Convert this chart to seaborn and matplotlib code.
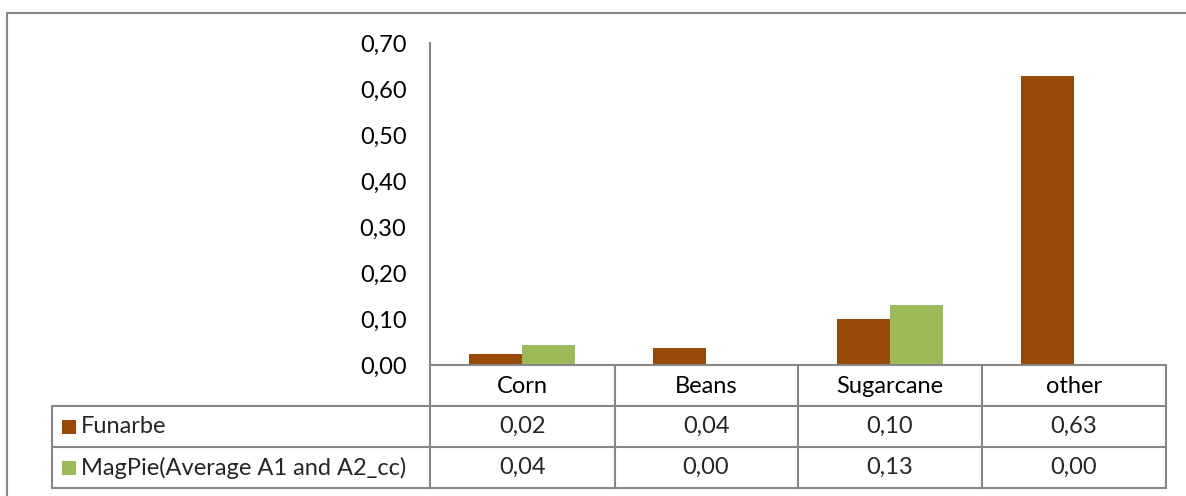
import matplotlib
matplotlib.use("Agg")
import matplotlib.pyplot as plt
import matplotlib.transforms as mtransforms
from matplotlib.lines import Line2D
from matplotlib.patches import Rectangle
from matplotlib.ticker import FuncFormatter, MultipleLocator
import numpy as np
import pandas as pd
import seaborn as sns

# data
categories = ['Corn', 'Beans', 'Sugarcane', 'other']
series = ['Funarbe', 'MagPie(Average A1 and A2_cc)']
funarbe = [0.024, 0.037, 0.100, 0.628]
magpie = [0.043, 0.000, 0.130, 0.000]
colors = ['#984807', '#9BBB59']

df = pd.DataFrame({
    'crop': categories * 2,
    'series': [series[0]] * 4 + [series[1]] * 4,
    'value': funarbe + magpie,
})

sns.set_style('white')
plt.rcParams['font.family'] = ['Lato', 'DejaVu Sans']
FS = 17
grid_c = '#868686'

W, H = 1186, 496
fig = plt.figure(figsize=(W / 100, H / 100), dpi=100)

def fx(px):
    return px / W

def fy(py):
    return 1 - py / H

ax = fig.add_axes([fx(430), fy(365), fx(1166) - fx(430), fy(43) - fy(365)])
sns.barplot(data=df, x='crop', y='value', hue='series', palette=colors,
            saturation=1, width=0.576, linewidth=0, ax=ax, legend=False)
ax.set_xlim(-0.5, 3.5)
ax.set_ylim(0, 0.7)
ax.yaxis.set_major_locator(MultipleLocator(0.1))
ax.yaxis.set_major_formatter(FuncFormatter(lambda v, p: f'{v:.2f}'.replace('.', ',')))
ax.set_xlabel('')
ax.set_ylabel('')
for s in ['top', 'right', 'bottom']:
    ax.spines[s].set_visible(False)
ax.spines['left'].set_color(grid_c)
ax.spines['left'].set_linewidth(1.5)
ax.tick_params(axis='y', length=0, pad=17, labelsize=FS, labelcolor='black')
ax.tick_params(axis='x', length=0, pad=8, labelsize=FS, labelcolor='black')

# data table lines
lw = 1.5
rows_y = [365, 406, 447, 488]
col_x = [430, 615, 798, 982, 1166]
fig.add_artist(Line2D([fx(430), fx(1166)], [fy(365), fy(365)], color=grid_c, lw=lw))
for yy in rows_y[1:]:
    fig.add_artist(Line2D([fx(52), fx(1166)], [fy(yy), fy(yy)], color=grid_c, lw=lw))
for xx in col_x:
    fig.add_artist(Line2D([fx(xx), fx(xx)], [fy(365), fy(488)], color=grid_c, lw=lw))
fig.add_artist(Line2D([fx(52), fx(52)], [fy(406), fy(488)], color=grid_c, lw=lw))

# outer chart border
fig.add_artist(Line2D([fx(7), 1], [fy(13), fy(13)], color=grid_c, lw=lw))
fig.add_artist(Line2D([fx(7), fx(7)], [fy(13), 0], color=grid_c, lw=lw))

# table contents
trans = mtransforms.blended_transform_factory(ax.transData, fig.transFigure)
table_vals = [funarbe, magpie]
row_centers = [426.5, 467.5]
for r, (name, vals, col) in enumerate(zip(series, table_vals, colors)):
    yc = fy(row_centers[r])
    fig.add_artist(Rectangle((fx(62), yc - 7 / H), 14 / W, 14 / H,
                             facecolor=col, edgecolor='none'))
    fig.text(fx(81), yc, name, fontsize=FS, va='center', ha='left')
    for i, v in enumerate(vals):
        ax.text(i, yc, f'{v:.2f}'.replace('.', ','), transform=trans,
                fontsize=FS, ha='center', va='center', clip_on=False)

fig.savefig('out.png', dpi=100, facecolor='white')
